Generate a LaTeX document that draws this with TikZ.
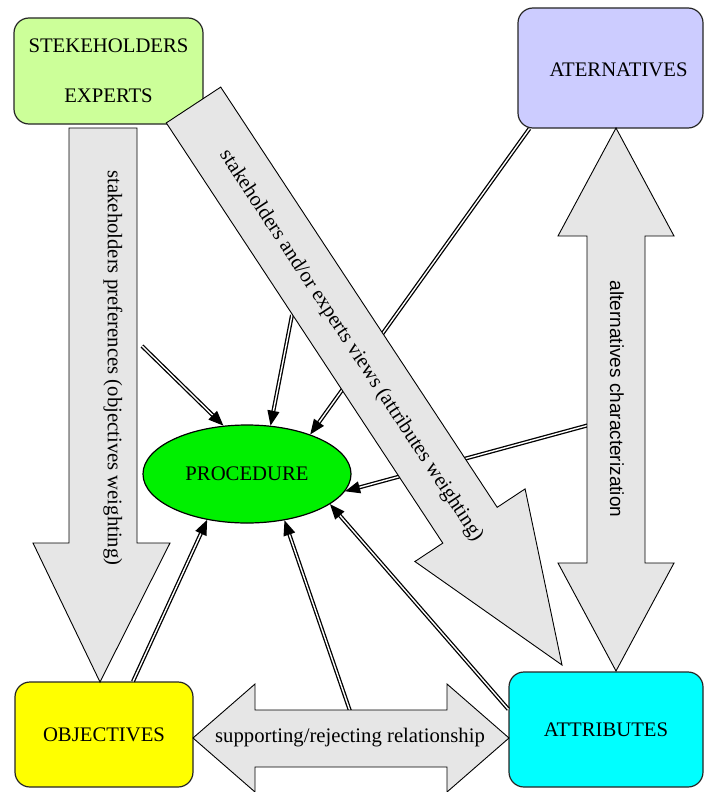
\documentclass[tikz,border=0pt]{standalone}
\usepackage{fontspec}
\setmainfont{Liberation Serif}
\newfontfamily\arialfont{Liberation Sans}
\usetikzlibrary{arrows.meta,shapes.geometric}
\definecolor{stkgreen}{RGB}{204,255,153}
\definecolor{altlilac}{RGB}{204,204,255}
\definecolor{objyellow}{RGB}{255,255,0}
\definecolor{attrcyan}{RGB}{0,255,255}
\definecolor{procgreen}{RGB}{0,240,0}
\definecolor{arrowgray}{RGB}{230,230,230}
\begin{document}
\begin{tikzpicture}[x=1pt,y=-1pt,
  box/.style={draw=black!85, line width=1.2pt, rounded corners=15pt, inner sep=0pt,
              font=\fontsize{20.7}{24}\selectfont},
  bigarrow/.style={draw=black, line width=0.9pt, fill=arrowgray, line join=miter},
  lbl/.style={font=\fontsize{20.7}{24}\selectfont, inner sep=0pt},
  conn/.style={double, double distance=1.4pt, line width=1.3pt,
               -{Triangle[length=15pt,width=12pt]}},
]
\useasboundingbox (0,0) rectangle (704,792);

% boxes
\node[box, fill=stkgreen, minimum width=189pt, minimum height=106pt, align=center]
  (stk) at (108.5,71) {STEKEHOLDERS\\[26pt]EXPERTS};
\node[box, fill=altlilac, minimum width=185pt, minimum height=120pt,
  label={[lbl, xshift=8pt, yshift=-2pt]center:ATERNATIVES}] (alt) at (610.5,68) {};
\node[box, fill=objyellow, minimum width=178pt, minimum height=105pt]
  (obj) at (104,734.5) {OBJECTIVES};
\node[box, fill=attrcyan, minimum width=194pt, minimum height=115pt]
  (attr) at (606,729.5) {ATTRIBUTES};
\node[ellipse, draw, line width=1.2pt, fill=procgreen, minimum width=208pt,
  minimum height=98pt, inner sep=0pt, font=\fontsize{20.7}{24}\selectfont]
  (proc) at (247,474) {PROCEDURE};

% connectors (drawn beneath the big arrows)
\coordinate (c1) at (142,346);
\coordinate (c2) at (292,315);
\coordinate (c4) at (589,425);
\coordinate (c6) at (350,711);
\draw[conn] (c1) -- (proc.116);
\draw[conn] (c2) -- (proc.64);
\draw[conn] ([xshift=12pt]alt.south west) -- (proc.32);
\draw[conn] (c4) -- (proc.-10);
\draw[conn] ([yshift=-38pt]attr.north west) -- (proc.-20);
\draw[conn] (c6) -- (proc.-51);
\draw[conn] ([xshift=29pt]obj.north) -- (proc.-131);

% big arrows
\draw[bigarrow] (69,128) -- (137,128) -- (137,543) -- (170,543) -- (100,682)
  -- (33,543) -- (69,543) -- cycle;
\node[lbl, rotate=-90] (prefs) at (113,368)
  {stakeholders preferences (objectives weighting)};

\draw[bigarrow] (616,128) -- (674,236) -- (645,236) -- (645,563) -- (674,563)
  -- (616,671) -- (558,563) -- (587,563) -- (587,236) -- (558,236) -- cycle;
\node[lbl, font=\arialfont\fontsize{19}{23}\selectfont, rotate=-90] (altchar)
  at (617,399) {alternatives characterization};

\draw[bigarrow] (193,738) -- (255,684) -- (255,710) -- (447,710) -- (447,684)
  -- (509,738) -- (447,792) -- (447,767) -- (255,767) -- (255,792) -- cycle;
\node[lbl] (rel) at (350,738) {supporting/rejecting relationship};

\draw[bigarrow] (220.7,87.1) -- (497.2,507.3) -- (525.1,488.9) -- (562,665)
  -- (414.9,561.5) -- (442.8,543.1) -- (166.3,122.9) -- cycle;
\node[lbl, rotate=-56.65] (views) at (351,346)
  {stakeholders and/or experts views (attributes weighting)};
\end{tikzpicture}
\end{document}
